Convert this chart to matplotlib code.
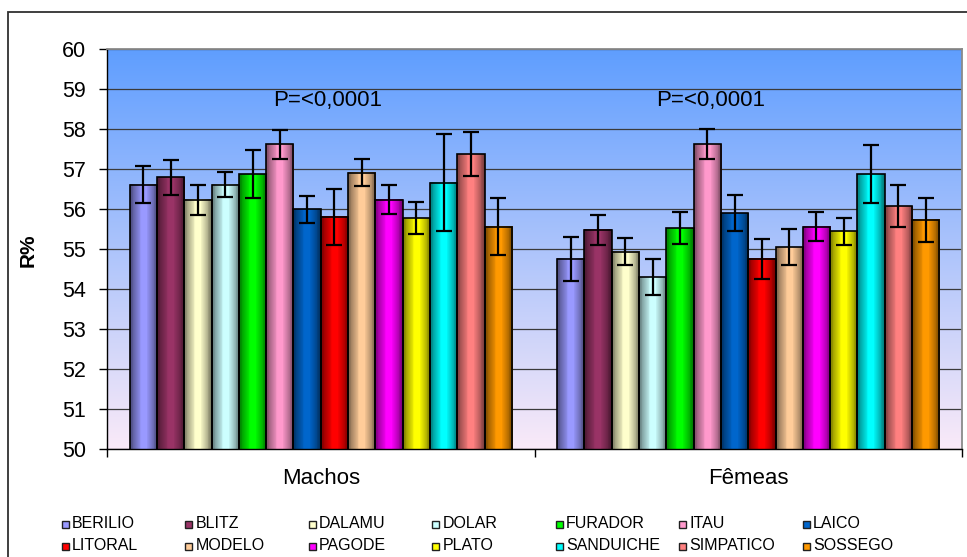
import numpy as np
import matplotlib
matplotlib.use("Agg")
import matplotlib.pyplot as plt
from matplotlib.colors import to_rgb
from matplotlib.patches import Rectangle

plt.rcParams['font.family'] = ['Liberation Sans', 'DejaVu Sans']

# ---- data -------------------------------------------------------------
groups = ["Machos", "Fêmeas"]
cultivars = ["BERILIO", "BLITZ", "DALAMU", "DOLAR", "FURADOR", "ITAU", "LAICO",
             "LITORAL", "MODELO", "PAGODE", "PLATO", "SANDUICHE", "SIMPATICO", "SOSSEGO"]
colors = ["#9999FF", "#993366", "#FFFFCC", "#CCFFFF", "#00FF00", "#FF99CC", "#0066CC",
          "#FF0000", "#FFCC99", "#FF00FF", "#FFFF00", "#00FFFF", "#FF8080", "#FF9900"]
machos = [56.61, 56.79, 56.23, 56.61, 56.87, 57.62, 55.99,
          55.81, 56.91, 56.23, 55.77, 56.66, 57.37, 55.56]
machos_err = [0.47, 0.43, 0.37, 0.31, 0.60, 0.36, 0.33,
              0.70, 0.34, 0.36, 0.40, 1.22, 0.55, 0.72]
femeas = [54.76, 55.48, 54.93, 54.30, 55.52, 57.62, 55.90,
          54.76, 55.05, 55.56, 55.44, 56.87, 56.07, 55.73]
femeas_err = [0.55, 0.38, 0.34, 0.44, 0.40, 0.38, 0.44,
              0.50, 0.44, 0.36, 0.34, 0.72, 0.53, 0.55]
p_labels = ["P=<0,0001", "P=<0,0001"]
yticks = list(range(50, 61))
ylabel = "R%"

values = [machos, femeas]
errors = [machos_err, femeas_err]

# ---- figure -----------------------------------------------------------
W, H = 967, 557
fig = plt.figure(figsize=(W / 100, H / 100), dpi=100)
fig.patch.set_facecolor("white")

# outer chart frame
fig.add_artist(Rectangle((8 / W, -0.1), 1.2, (1 - 12 / H) + 0.1,
                         transform=fig.transFigure, fill=False,
                         edgecolor="#303030", lw=1.3))

ax = fig.add_axes([107 / W, 1 - 449 / H, (962 - 107) / W, (449 - 49) / H])
ymin, ymax = yticks[0], yticks[-1]

# plot-area gradient (blue at top fading to pale pink)
top = np.array(to_rgb("#5F9EFF"))
bot = np.array(to_rgb("#FAEAF8"))
t = np.linspace(0, 1, 256)[:, None]
grad = top * (1 - t) + bot * t
ax.imshow(grad[:, None, :], extent=(-0.5, 1.5, ymin, ymax),
          aspect="auto", origin="upper", zorder=0, interpolation="bilinear")

# horizontal shading profile for cylindrical-looking bars
sx = np.linspace(0, 1, 32)
shade = np.interp(sx, [0, 0.12, 0.3, 0.42, 0.6, 0.75, 0.9, 1.0],
                  [0.50, 0.64, 0.86, 1.0, 1.0, 0.82, 0.62, 0.46])

n = len(cultivars)
group_w = 0.894
bw = group_w / n

for g, (vals, errs) in enumerate(zip(values, errors)):
    xs = g - group_w / 2 + (np.arange(n) + 0.5) * bw
    bars = ax.bar(xs, vals, width=bw, color=colors, zorder=2)
    for bar, c in zip(bars, colors):
        img = np.clip(np.array(to_rgb(c))[None, :] * shade[:, None], 0, 1)
        x0 = bar.get_x()
        ax.imshow(img[None, :, :],
                  extent=(x0, x0 + bar.get_width(), ymin, bar.get_height()),
                  aspect="auto", zorder=2.5, interpolation="nearest")
    ax.bar(xs, vals, width=bw, fill=False, edgecolor="black", lw=1.2, zorder=3)
    ax.errorbar(xs, vals, yerr=errs, fmt="none", ecolor="black",
                elinewidth=1.6, capsize=6, capthick=1.6, zorder=4)

# significance labels
p_x = [0.016, 0.912]
for px, lab in zip(p_x, p_labels):
    ax.text(px, 58.72, lab, ha="center", va="center", fontsize=16, color="black", zorder=5)

ax.set_xlim(-0.5, 1.5)
ax.set_ylim(ymin, ymax)
ax.set_yticks(yticks)
ax.set_yticklabels([str(v) for v in yticks])
ax.yaxis.grid(True, color="#3A3A3A", lw=0.9)
ax.set_axisbelow(True)
for gl in ax.get_ygridlines():
    gl.set_zorder(1)

ax.set_xticks([-0.5, 0.5, 1.5])
ax.set_xticklabels([])
ax.tick_params(axis="x", direction="out", length=6, width=1, color="black")
ax.tick_params(axis="y", direction="out", length=6, width=1, color="black",
               labelsize=15.5, pad=9)

for side in ("left", "bottom"):
    ax.spines[side].set_color("black")
    ax.spines[side].set_linewidth(1.0)
for side in ("top", "right"):
    ax.spines[side].set_color("#8A8A8A")
    ax.spines[side].set_linewidth(1.3)

# category labels
for g, name in enumerate(groups):
    ax.text(g, -0.074, name, transform=ax.get_xaxis_transform(),
            ha="center", va="center", fontsize=16)

fig.text(28 / W, 1 - 250 / H, ylabel, rotation=90, fontweight="bold",
         fontsize=15, ha="center", va="center")

# legend: 7 columns x 2 rows
for i, (name, c) in enumerate(zip(cultivars, colors)):
    row, col = divmod(i, 7)
    cx = 65 + 123.5 * col
    cy = 524 + 22 * row
    s = 7
    fig.add_artist(Rectangle(((cx - s / 2) / W, 1 - (cy + s / 2) / H), s / W, s / H,
                             transform=fig.transFigure, facecolor=c,
                             edgecolor="#202020", lw=1.0))
    fig.text((cx + 7) / W, 1 - cy / H, name, ha="left", va="center", fontsize=11.5)

fig.savefig("out.png", dpi=100)
